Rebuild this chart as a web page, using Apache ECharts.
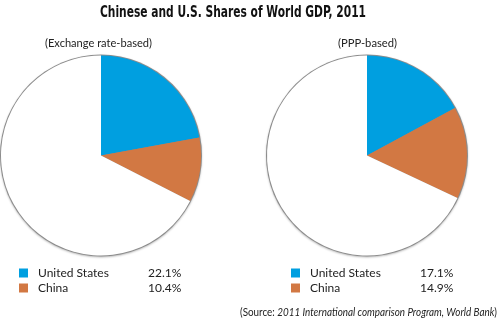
<!DOCTYPE html>
<html>
<head>
<meta charset="utf-8">
<script src="https://cdn.jsdelivr.net/npm/echarts@6/dist/echarts.min.js"></script>
<style>
  html, body { margin: 0; padding: 0; background: #fff; }
  #chart { width: 500px; height: 323px; }
</style>
</head>
<body>
<div id="chart"></div>
<script>
// GDP shares, 2011 (percent of world total)
const countries = ['United States', 'China'];
const restName = 'Rest of world';
const exchangeShares = [22.1, 10.4];
const pppShares = [17.1, 14.9];
const panelTitles = ['(Exchange rate-based)', '(PPP-based)'];
const chartTitle = 'Chinese and U.S. Shares of World GDP, 2011';
const sourcePrefix = '(Source: ';
const sourceBody = '2011 International comparison Program, World Bank';
const sourceSuffix = ')';

const colors = ['#009fe0', '#d27843'];
const textFont = 'Lato, "Open Sans", sans-serif';
const titleFont = 'bold 15px "DejaVu Sans Condensed", "DejaVu Sans", sans-serif';
const titleWidth = 266;
const sourceSize = 12;
const sourceWidth = 257;
const panelFont = `12px ${textFont}`;

function sliceData(shares) {
  const rest = +(100 - shares.reduce((a, b) => a + b, 0)).toFixed(1);
  const items = countries.map((c, i) => ({
    name: c, value: shares[i], itemStyle: { color: colors[i] }
  }));
  items.push({ name: restName, value: rest, itemStyle: { color: '#ffffff' } });
  return items;
}

// narrow faces: squeeze the heading, panel captions and source line to their widths
const measureCtx = document.createElement('canvas').getContext('2d');
function textWidth(font, text) { measureCtx.font = font; return measureCtx.measureText(text).width; }
const titleScale = titleWidth / textWidth(titleFont, chartTitle);
const srcNormal = `${sourceSize}px ${textFont}`;
const srcItalic = `italic ${sourceSize}px ${textFont}`;
const sourceScale = sourceWidth / (textWidth(srcNormal, sourcePrefix) +
  textWidth(srcItalic, sourceBody) + textWidth(srcNormal, sourceSuffix));

const panels = [
  { shares: exchangeShares, cx: 101, title: panelTitles[0], titleX: 98.5, titleW: 107, legendLeft: 19 },
  { shares: pppShares, cx: 367, title: panelTitles[1], titleX: 367.5, titleW: 59, legendLeft: 291 }
];
const cy = 155.5;
const r = 100;

const series = [];
const legends = [];
const graphics = [{
  type: 'text',
  x: 233, y: 13,
  scaleX: titleScale,
  style: { text: chartTitle, font: titleFont, fill: '#111', align: 'center', verticalAlign: 'middle' }
}, {
  type: 'text',
  x: 497, y: 312,
  scaleX: sourceScale,
  style: {
    text: `{n|${sourcePrefix}}{i|${sourceBody}}{n|${sourceSuffix}}`,
    align: 'right',
    verticalAlign: 'middle',
    rich: {
      n: { fontFamily: textFont, fontSize: sourceSize, fill: '#222' },
      i: { fontFamily: textFont, fontStyle: 'italic', fontSize: sourceSize, fill: '#222' }
    }
  }
}];

panels.forEach((p) => {
  // thin grey rim with a soft shadow behind each pie
  series.push({
    type: 'pie', silent: true, z: 1,
    center: [p.cx, cy], radius: r + 1,
    label: { show: false }, labelLine: { show: false },
    itemStyle: { color: '#8c8c8c', shadowColor: 'rgba(0,0,0,0.25)', shadowBlur: 2, shadowOffsetY: 1 },
    data: [{ name: '', value: 1 }],
    animation: false
  });
  const data = sliceData(p.shares);
  series.push({
    type: 'pie', z: 2, name: p.title,
    center: [p.cx, cy], radius: r,
    startAngle: 90, clockwise: true,
    label: { show: false }, labelLine: { show: false },
    itemStyle: { borderWidth: 0 },
    data: data,
    animation: false
  });
  const valueMap = {};
  data.forEach(d => { valueMap[d.name] = d.value; });
  legends.push({
    data: countries,
    orient: 'vertical',
    left: p.legendLeft, top: 267,
    padding: 0,
    itemWidth: 9, itemHeight: 9, itemGap: 3,
    icon: 'rect',
    selectedMode: false,
    formatter: name => `{n|${name}}{v|${valueMap[name].toFixed(1)}%}`,
    textStyle: {
      fontFamily: textFont, fontSize: 12, color: '#222',
      padding: [0, 0, 0, 5],
      rich: {
        n: { width: 110, fontFamily: textFont, fontSize: 12, color: '#222' },
        v: { fontFamily: textFont, fontSize: 12, color: '#222' }
      }
    }
  });
  graphics.push({
    type: 'text',
    x: p.titleX, y: 43,
    scaleX: p.titleW / textWidth(panelFont, p.title),
    style: { text: p.title, font: panelFont, fill: '#222', align: 'center', verticalAlign: 'middle' }
  });
});

const chart = echarts.init(document.getElementById('chart'), null, { renderer: 'canvas' });
chart.setOption({
  backgroundColor: '#ffffff',
  animation: false,
  legend: legends,
  graphic: graphics,
  series: series
});
</script>
</body>
</html>
